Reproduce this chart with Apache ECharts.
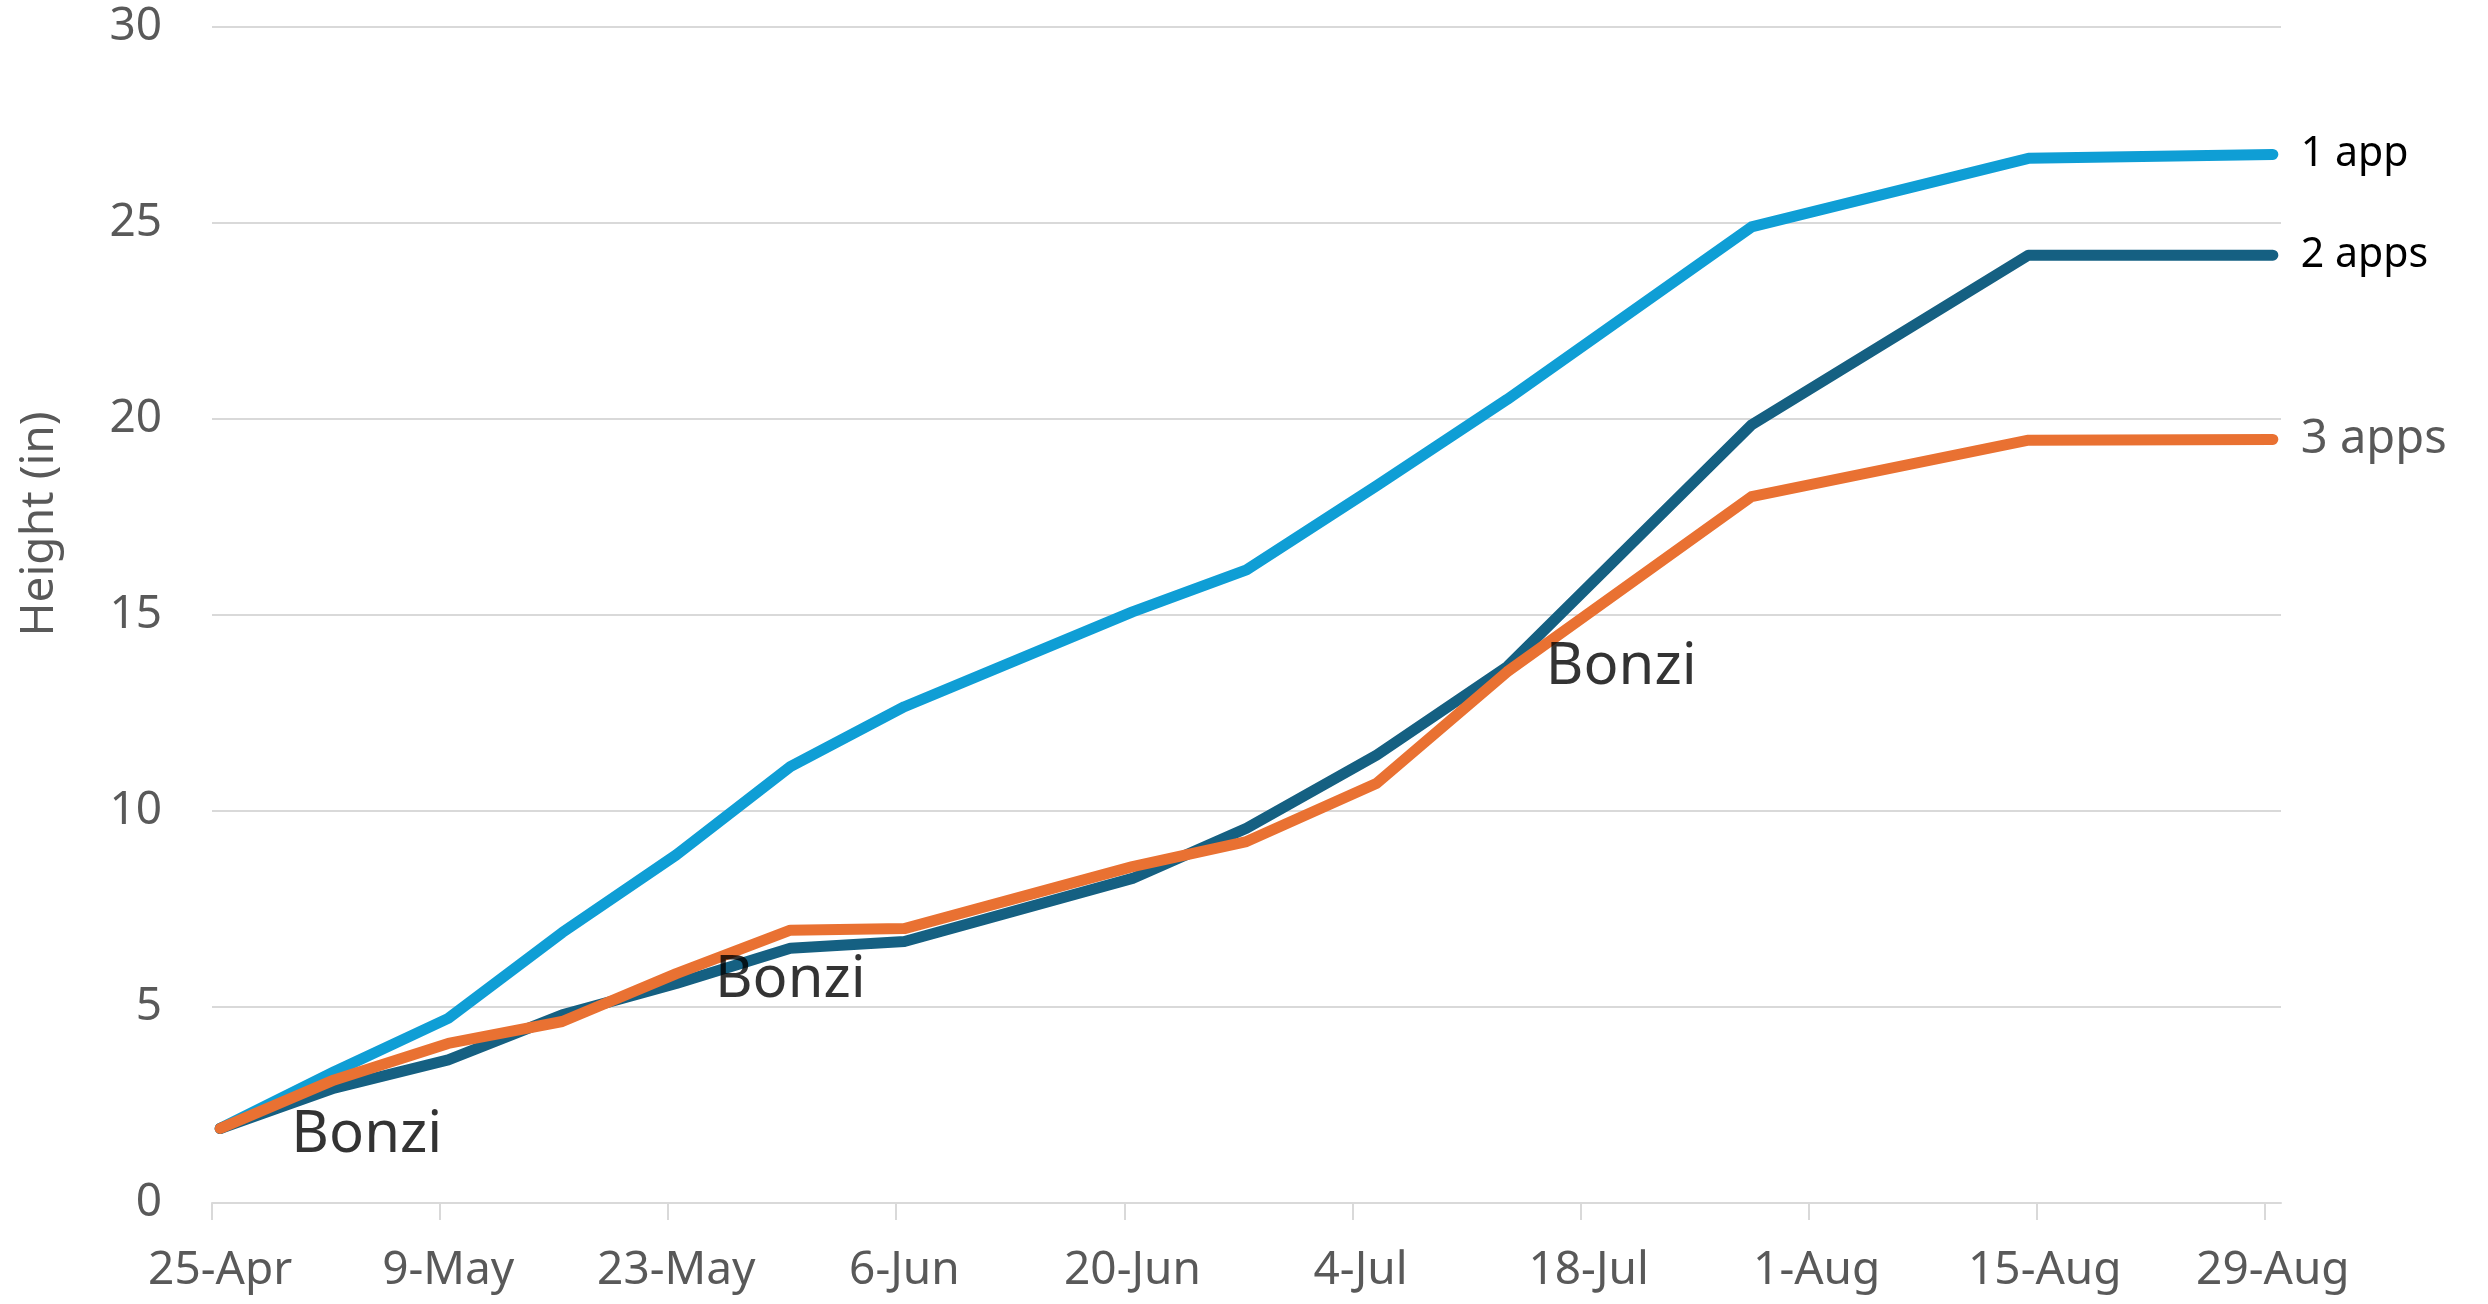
<!DOCTYPE html>
<html>
<head>
<meta charset="utf-8">
<script src="https://cdn.jsdelivr.net/npm/echarts@6/dist/echarts.min.js"></script>
<style>
  html, body { margin: 0; padding: 0; background: #fff; }
  #main { width: 2488px; height: 1304px; }
</style>
</head>
<body>
<div id="main"></div>
<script>
// measurement dates and heights (in)
var measureDates = ['2024-04-25', '2024-05-02', '2024-05-09', '2024-05-16', '2024-05-23', '2024-05-30', '2024-06-06',
                    '2024-06-20', '2024-06-27', '2024-07-05', '2024-07-13', '2024-07-28', '2024-08-14', '2024-08-29'];
var oneApp    = [1.9, 3.35, 4.71, 6.9, 8.88, 11.13, 12.66, 15.08, 16.15, 18.3, 20.5, 24.9, 26.65, 26.75];
var twoApps   = [1.9, 2.93, 3.65, 4.8, 5.6, 6.5, 6.67, 8.28, 9.56, 11.43, 13.68, 19.85, 24.18, 24.18];
var threeApps = [1.9, 3.14, 4.07, 4.63, 5.85, 6.96, 7.0, 8.58, 9.22, 10.71, 13.55, 18.02, 19.46, 19.48];

var tickLabels = ['25-Apr', '9-May', '23-May', '6-Jun', '20-Jun', '4-Jul', '18-Jul', '1-Aug', '15-Aug', '29-Aug'];

// "Bonzi" notes: [date, height]
var noteDates   = ['2024-05-04', '2024-05-30', '2024-07-20'];
var noteHeights = [1.72, 5.68, 13.67];

var startDay = Date.UTC(2024, 3, 25);
function dayOf(s) {
    var p = s.split('-');
    return (Date.UTC(+p[0], +p[1] - 1, +p[2]) - startDay) / 86400000;
}
// excel date axis puts each day in the middle of its slot
function toPoints(vals) {
    var out = [];
    for (var i = 0; i < vals.length; i++) {
        out.push([dayOf(measureDates[i]) + 0.5, vals[i]]);
    }
    return out;
}

var tickVals = [], labelVals = [];
for (var i = 0; i < tickLabels.length; i++) {
    tickVals.push(i * 14);
    labelVals.push(i * 14 + 0.5);
}

var noteData = [];
for (var i = 0; i < noteDates.length; i++) {
    noteData.push([dayOf(noteDates[i]) + 0.5, noteHeights[i]]);
}

var font = 'Noto Sans';
var gridColor = '#D9D9D9';

function lineSeries(name, vals, color, labelColor, labelSize) {
    return {
        name: name,
        type: 'line',
        data: toPoints(vals),
        showSymbol: false,
        silent: true,
        lineStyle: { color: color, width: 11, cap: 'round', join: 'round' },
        itemStyle: { color: color },
        endLabel: {
            show: true,
            formatter: name,
            distance: 28,
            color: labelColor,
            fontSize: labelSize,
            fontFamily: font
        }
    };
}

var myChart = echarts.init(document.getElementById('main'));
var option = {
    animation: false,
    backgroundColor: '#fff',
    grid: { left: 212, right: 207, top: 27, bottom: 101, outerBoundsMode: 'none' },
    xAxis: {
        type: 'value',
        min: 0,
        max: 127,
        axisLine: { show: true, lineStyle: { color: gridColor, width: 2 } },
        axisTick: { show: true, length: 17, customValues: tickVals, lineStyle: { color: gridColor, width: 2 } },
        splitLine: { show: false },
        axisLabel: {
            customValues: labelVals,
            margin: 45,
            color: '#595959',
            fontSize: 46,
            fontFamily: font,
            formatter: function (v) {
                return tickLabels[Math.round((v - 0.5) / 14)];
            }
        }
    },
    yAxis: {
        type: 'value',
        min: 0,
        max: 30,
        interval: 5,
        axisLine: { show: false },
        axisTick: { show: false },
        splitLine: { lineStyle: { color: gridColor, width: 2 } },
        axisLabel: { margin: 50, color: '#595959', fontSize: 46, fontFamily: font }
    },
    graphic: [{
        type: 'text',
        x: 40,
        y: 524,
        rotation: Math.PI / 2,
        style: {
            text: 'Height (in)',
            fill: '#595959',
            fontSize: 46,
            fontFamily: font,
            align: 'center',
            verticalAlign: 'middle'
        }
    }],
    series: [
        lineSeries('1 app', oneApp, '#0F9ED5', '#000', 41),
        lineSeries('2 apps', twoApps, '#156082', '#000', 41),
        lineSeries('3 apps', threeApps, '#E97132', '#595959', 47),
        {
            name: 'notes',
            type: 'scatter',
            data: noteData,
            symbolSize: 1,
            silent: true,
            itemStyle: { color: 'rgba(0,0,0,0)' },
            label: {
                show: true,
                position: 'inside',
                formatter: 'Bonzi',
                color: '#000',
                fontSize: 58,
                fontFamily: font
            },
            z: 5
        }
    ]
};
myChart.setOption(option);
</script>
</body>
</html>
